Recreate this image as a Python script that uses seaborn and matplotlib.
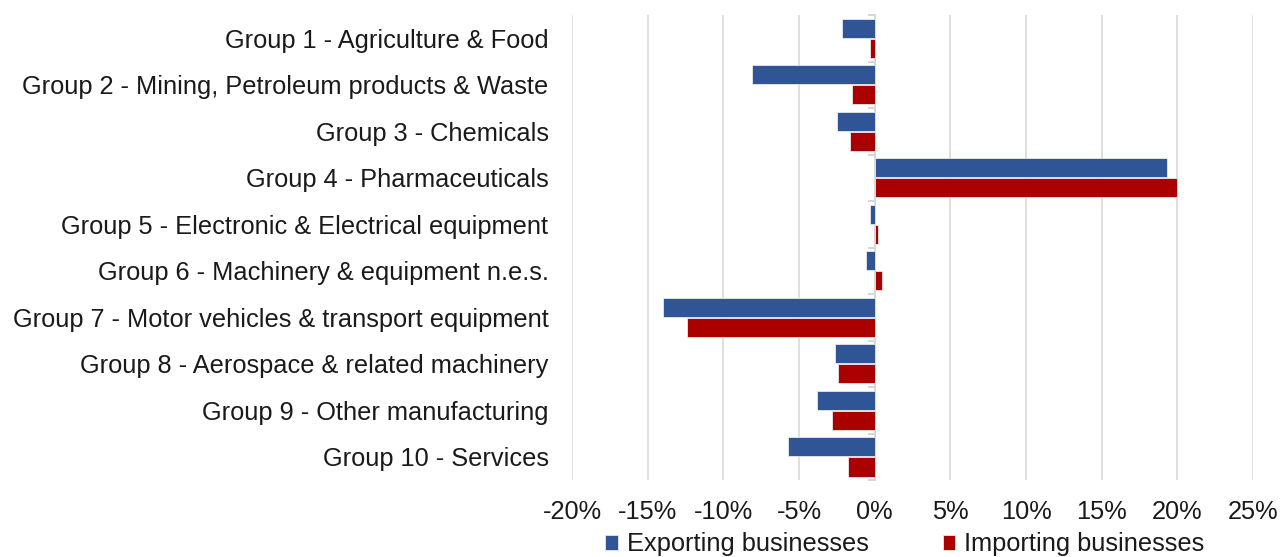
import numpy as np
import pandas as pd
import matplotlib
matplotlib.use("Agg")
import matplotlib.pyplot as plt
from matplotlib.ticker import FuncFormatter
import seaborn as sns

groups = [
    "Group 1 - Agriculture & Food",
    "Group 2 - Mining, Petroleum products & Waste",
    "Group 3 - Chemicals",
    "Group 4 - Pharmaceuticals",
    "Group 5 - Electronic & Electrical equipment",
    "Group 6 - Machinery & equipment n.e.s.",
    "Group 7 - Motor vehicles & transport equipment",
    "Group 8 - Aerospace & related machinery",
    "Group 9 - Other manufacturing",
    "Group 10 - Services",
]
exporting = [-2.2, -8.1, -2.5, 19.3, -0.3, -0.6, -14.0, -2.65, -3.8, -5.75]
importing = [-0.3, -1.5, -1.65, 19.95, 0.2, 0.45, -12.4, -2.45, -2.8, -1.8]
series = ["Exporting businesses", "Importing businesses"]
colors = {"Exporting businesses": "#2F5597", "Importing businesses": "#AA0000"}
xticks = [-20, -15, -10, -5, 0, 5, 10, 15, 20, 25]

df = pd.DataFrame({
    "group": groups * 2,
    "value": exporting + importing,
    "series": [series[0]] * len(groups) + [series[1]] * len(groups),
})

sns.set_style("white")
plt.rcParams["font.family"] = ["Liberation Sans", "DejaVu Sans"]
txt = "#1A1A1A"

fig = plt.figure(figsize=(12.8, 5.57), dpi=100)
ax = fig.add_axes([0.447, 0.138, 0.532, 0.835])

sns.barplot(data=df, y="group", x="value", hue="series", order=groups,
            hue_order=series, palette=colors, saturation=1, orient="h",
            width=0.87, gap=0.06, edgecolor="#E8E8E8", linewidth=0.6,
            ax=ax, legend=True)

ax.set_xlim(-20, 25)
ax.set_xticks(xticks)
ax.xaxis.set_major_formatter(FuncFormatter(lambda v, p: f"{v:.0f}%"))
ax.grid(axis="x", color="#D9D9D9", linewidth=1.2)
ax.set_axisbelow(True)
for s in ax.spines.values():
    s.set_visible(False)
ax.set_xlabel("")
ax.set_ylabel("")
ax.tick_params(axis="y", length=0, pad=17, labelsize=18.3, colors=txt)
ax.tick_params(axis="x", length=0, pad=14, labelsize=18.3, colors=txt)
ax.set_ylim(len(groups) - 0.5, -0.5)

# vertical zero axis with small category ticks
zero_pos = (0 - (-20)) / (25 - (-20))
sec = ax.secondary_yaxis(zero_pos)
sec.set_yticks(np.arange(len(groups) + 1) - 0.5)
sec.set_yticklabels([])
sec.tick_params(length=5, width=1.2, color="#D0D0D0")
sec.spines["left"].set_color("#D0D0D0")
sec.spines["left"].set_linewidth(1.2)

handles, labels = ax.get_legend_handles_labels()
ax.get_legend().remove()
fig.legend(handles, labels, loc="upper center", bbox_to_anchor=(0.707, 0.044),
           ncol=2, frameon=False, fontsize=18.3, handlelength=0.5,
           handleheight=0.5, handletextpad=0.35, columnspacing=2.9,
           labelcolor=txt, borderpad=0.0, borderaxespad=0.0)

fig.savefig("out.png", dpi=100)
